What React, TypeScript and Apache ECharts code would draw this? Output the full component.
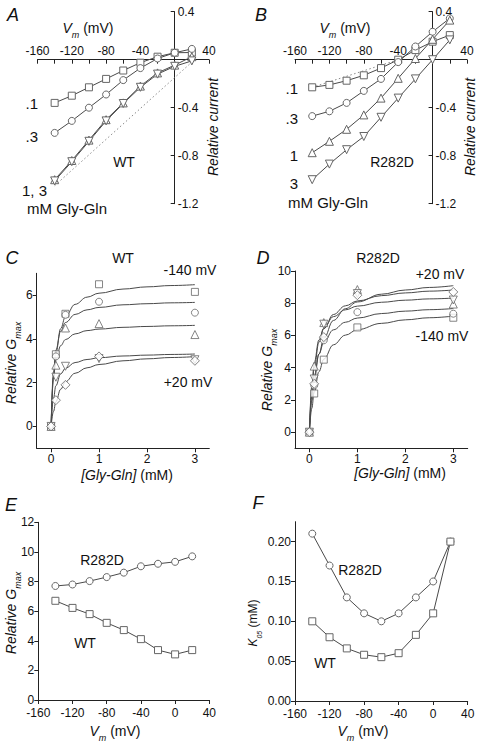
import React, { useEffect, useRef } from "react";
import * as echarts from "echarts";

const FONT = "'Liberation Sans', Arial, Helvetica, sans-serif";
const LINE = "#4a4a4a";
const MK = "#666666";
const AX = "#222222";

// membrane potentials (mV)
const vm = [-140, -120, -100, -80, -60, -40, -20, 0, 20];

// Panel A: WT relative current
const wtI01 = [-0.36, -0.3, -0.23, -0.16, -0.09, -0.025, 0.025, 0.058, 0.06];
const wtI03 = [-0.61, -0.51, -0.4, -0.29, -0.17, -0.07, 0.01, 0.058, 0.09];
const wtI1 = [-1.0, -0.84, -0.67, -0.5, -0.36, -0.22, -0.11, -0.045, 0.025];
const wtI3 = [-1.01, -0.85, -0.68, -0.51, -0.365, -0.23, -0.12, -0.055, -0.01];
const wtRefX = [-140, 20];
const wtRefY = [-1.05, -0.02];

// Panel B: R282D relative current
const rdI01 = [-0.23, -0.21, -0.175, -0.13, -0.07, 0.0, 0.08, 0.15, 0.205];
const rdI03 = [-0.47, -0.43, -0.36, -0.26, -0.16, -0.02, 0.11, 0.233, 0.345];
const rdI1 = [-0.775, -0.68, -0.58, -0.46, -0.32, -0.155, 0.01, 0.17, 0.33];
const rdI3 = [-1.0, -0.87, -0.75, -0.64, -0.48, -0.32, -0.16, 0.0, 0.165];
const rdRefX = [-140, -40];
const rdRefY = [-0.23, 0.0];

// Panels C, D: [Gly-Gln] (mM)
const conc = [0, 0.1, 0.3, 1, 3];
const wtG140 = [0, 3.3, 5.15, 6.5, 6.15];
const wtG100 = [0, 3.2, 5.1, 5.7, 5.2];
const wtG60 = [0, 2.8, 4.5, 4.7, 4.2];
const wtG20n = [0, 2.25, 2.75, 3.1, 3.05];
const wtG20p = [0, 1.2, 1.9, 3.2, 3.0];

const rdG140 = [0, 2.4, 4.5, 6.5, 7.1];
const rdG100 = [0, 2.9, 5.7, 7.45, 7.35];
const rdG60 = [0, 4.1, 6.8, 8.85, 7.95];
const rdG20n = [0, 3.3, 6.7, 8.6, 8.2];
const rdG20p = [0, 3.0, 5.9, 8.5, 8.7];

// fitted curves
const fitX = [0, 0.05, 0.1, 0.2, 0.3, 0.5, 0.75, 1, 1.5, 2, 2.5, 3];
const wtFit140 = [0, 2.23, 3.35, 4.47, 5.03, 5.58, 5.91, 6.09, 6.28, 6.38, 6.44, 6.48];
const wtFit100 = [0, 2.5, 3.49, 4.36, 4.75, 5.12, 5.33, 5.44, 5.56, 5.61, 5.65, 5.67];
const wtFit60 = [0, 2.24, 3.03, 3.69, 3.97, 4.23, 4.38, 4.45, 4.53, 4.57, 4.6, 4.62];
const wtFit20n = [0, 1.28, 1.86, 2.4, 2.66, 2.92, 3.06, 3.14, 3.22, 3.26, 3.29, 3.31];
const wtFit20p = [0, 0.68, 1.13, 1.7, 2.04, 2.43, 2.68, 2.83, 3.0, 3.09, 3.15, 3.19];

const rdFit140 = [0, 1.48, 2.48, 3.76, 4.53, 5.42, 6.02, 6.36, 6.75, 6.97, 7.1, 7.2];
const rdFit100 = [0, 2.22, 3.48, 4.85, 5.58, 6.35, 6.82, 7.08, 7.36, 7.51, 7.6, 7.67];
const rdFit60 = [0, 2.87, 4.3, 5.73, 6.45, 7.17, 7.59, 7.82, 8.06, 8.19, 8.27, 8.32];
const rdFit20n = [0, 2.56, 4.0, 5.58, 6.42, 7.3, 7.84, 8.14, 8.47, 8.64, 8.75, 8.82];
const rdFit20p = [0, 1.94, 3.23, 4.85, 5.82, 6.93, 7.66, 8.08, 8.56, 8.82, 8.98, 9.09];

// Panel E: relative Gmax vs Vm
const rdGmax = [7.7, 7.8, 8.03, 8.3, 8.6, 9.03, 9.2, 9.33, 9.7];
const wtGmax = [6.7, 6.22, 5.8, 5.21, 4.72, 4.11, 3.37, 3.08, 3.37];

// Panel F: K05 vs Vm
const rdK = [0.21, 0.17, 0.13, 0.11, 0.1, 0.11, 0.13, 0.15, 0.2];
const wtK = [0.1, 0.08, 0.066, 0.058, 0.055, 0.06, 0.083, 0.11, 0.2];

const pairs = (xs: number[], ys: number[]) => xs.map((x, i) => [x, ys[i]]);

const mkStyle = { color: "#ffffff", borderColor: MK, borderWidth: 1 };

function lineS(idx: number, xs: number[], ys: number[], symbol: string, size: number, rot = 0) {
  return {
    type: "line",
    xAxisIndex: idx,
    yAxisIndex: idx,
    data: pairs(xs, ys),
    symbol,
    symbolSize: size,
    symbolRotate: rot,
    showSymbol: true,
    lineStyle: { color: LINE, width: 1 },
    itemStyle: mkStyle,
    z: 3,
  };
}
function scatterS(idx: number, xs: number[], ys: number[], symbol: string, size: number, rot = 0) {
  return {
    type: "scatter",
    xAxisIndex: idx,
    yAxisIndex: idx,
    data: pairs(xs, ys),
    symbol,
    symbolSize: size,
    symbolRotate: rot,
    itemStyle: mkStyle,
    z: 4,
  };
}
function curveS(idx: number, xs: number[], ys: number[]) {
  return {
    type: "line",
    xAxisIndex: idx,
    yAxisIndex: idx,
    data: pairs(xs, ys),
    showSymbol: false,
    symbol: "none",
    smooth: 0.4,
    smoothMonotone: "x",
    lineStyle: { color: LINE, width: 1 },
    z: 2,
  };
}
function dotS(idx: number, xs: number[], ys: number[]) {
  return {
    type: "line",
    xAxisIndex: idx,
    yAxisIndex: idx,
    data: pairs(xs, ys),
    showSymbol: false,
    symbol: "none",
    lineStyle: { color: "#8a8a8a", width: 1, type: [1.5, 2.5] },
    z: 1,
  };
}

const labelBase = { color: "#111", fontFamily: FONT, fontSize: 12 };
const lineSt = { color: AX, width: 1 };

function hid(grid: number, min: number, max: number) {
  return { gridIndex: grid, type: "value", min, max, show: false, splitLine: { show: false } };
}
// x-axis drawn along the zero current line (labels above, ticks below)
function ivX(grid: number) {
  return {
    gridIndex: grid,
    type: "value",
    min: -160,
    max: 40,
    interval: 40,
    position: "top",
    axisLine: { show: true, onZero: false, lineStyle: lineSt },
    axisTick: { show: true, inside: true, length: 4, lineStyle: lineSt },
    minorTick: { show: true, splitNumber: 2, length: 4, lineStyle: lineSt },
    axisLabel: { ...labelBase, margin: 3, formatter: (v: number) => (v === 0 ? "" : String(v)) },
    splitLine: { show: false },
    minorSplitLine: { show: false },
  };
}
// y-axis drawn along the zero voltage line (labels right, ticks left)
function ivY(grid: number) {
  return {
    gridIndex: grid,
    type: "value",
    min: -1.2,
    max: 0.4,
    interval: 0.4,
    position: "right",
    axisLine: { show: true, onZero: false, lineStyle: lineSt },
    axisTick: { show: true, inside: true, length: 4, lineStyle: lineSt },
    axisLabel: {
      ...labelBase,
      margin: 3,
      formatter: (v: number) => (Math.abs(v) < 1e-9 ? "" : v.toFixed(1)),
    },
    splitLine: { show: false },
  };
}
function concX(grid: number) {
  return {
    gridIndex: grid,
    type: "value",
    min: -0.3,
    max: 3.3,
    position: "bottom",
    axisLine: { show: true, onZero: false, lineStyle: lineSt },
    axisTick: { show: true, length: 4, lineStyle: lineSt, customValues: [0, 1, 2, 3] },
    axisLabel: { ...labelBase, margin: 5, customValues: [0, 1, 2, 3] },
    splitLine: { show: false },
  };
}
function gY(grid: number, min: number, max: number, vals: number[], fmt?: (v: number) => string) {
  return {
    gridIndex: grid,
    type: "value",
    min,
    max,
    position: "left",
    axisLine: { show: true, onZero: false, lineStyle: lineSt },
    axisTick: { show: true, length: 4, lineStyle: lineSt, customValues: vals },
    axisLabel: { ...labelBase, margin: 4, customValues: vals, formatter: fmt },
    splitLine: { show: false },
  };
}
function vmX(grid: number) {
  return {
    gridIndex: grid,
    type: "value",
    min: -160,
    max: 40,
    interval: 40,
    position: "bottom",
    axisLine: { show: true, onZero: false, lineStyle: lineSt },
    axisTick: { show: true, length: 4, lineStyle: lineSt },
    axisLabel: { ...labelBase, margin: 7 },
    splitLine: { show: false },
  };
}

function sub(size: number) {
  return {
    i: { fontStyle: "italic", fontSize: size, fontFamily: FONT, lineHeight: size + 2, fill: "#111" },
    s: {
      fontStyle: "italic",
      fontSize: Math.round(size * 0.62),
      fontFamily: FONT,
      lineHeight: size + 8,
      verticalAlign: "bottom",
      fill: "#111",
    },
    n: { fontSize: size, fontFamily: FONT, lineHeight: size + 2, fill: "#111" },
  };
}

function txt(
  x: number,
  y: number,
  text: string,
  o: { size?: number; italic?: boolean; align?: string; rot?: number; rich?: any } = {}
) {
  return {
    type: "text",
    x,
    y,
    rotation: o.rot || 0,
    z: 100,
    style: {
      text,
      fill: "#111",
      fontFamily: FONT,
      fontSize: o.size || 14,
      fontStyle: o.italic ? "italic" : "normal",
      align: o.align || "center",
      verticalAlign: "middle",
      rich: o.rich,
    },
  };
}

const VM_TXT = "{i|V}{s|m}{n| (mV)}";
const GMAX_TXT = "{i|Relative G}{s|max}";
const R90 = Math.PI / 2;

// panel frames (pixels)
const A_L = 37.5, A_W = 171.5, A_T = 11.7, A_H = 192;
const B_L = 295, B_W = 172;

export default function App() {
  const ref = useRef<HTMLDivElement>(null);
  useEffect(() => {
    if (!ref.current) return;
    const chart = echarts.init(ref.current, null, { renderer: "svg" });
    const zeroY = A_T + (A_H * 0.4) / 1.6;
    const option = {
      animation: false,
      backgroundColor: "#ffffff",
      textStyle: { fontFamily: FONT },
      grid: [
        { left: A_L, top: A_T, width: A_W, height: A_H }, // 0 A data
        { left: A_L, top: zeroY, width: A_W, height: A_T + A_H - zeroY }, // 1 A x-axis
        { left: A_L, top: A_T, width: A_W * 0.8, height: A_H }, // 2 A y-axis
        { left: B_L, top: A_T, width: B_W, height: A_H }, // 3 B data
        { left: B_L, top: zeroY, width: B_W, height: A_T + A_H - zeroY }, // 4 B x-axis
        { left: B_L, top: A_T, width: B_W * 0.8, height: A_H }, // 5 B y-axis
        { left: 36.7, top: 273.3, width: 172.6, height: 175 }, // 6 C
        { left: 295, top: 271, width: 172.7, height: 177.3 }, // 7 D
        { left: 38.3, top: 522.3, width: 171, height: 177.7 }, // 8 E
        { left: 295, top: 521.7, width: 172.7, height: 179.3 }, // 9 F
      ],
      xAxis: [
        hid(0, -160, 40),
        ivX(1),
        hid(2, -160, 0),
        hid(3, -160, 40),
        ivX(4),
        hid(5, -160, 0),
        concX(6),
        concX(7),
        vmX(8),
        vmX(9),
      ],
      yAxis: [
        hid(0, -1.2, 0.4),
        hid(1, -1.2, 0),
        ivY(2),
        hid(3, -1.2, 0.4),
        hid(4, -1.2, 0),
        ivY(5),
        gY(6, -1, 7, [0, 2, 4, 6]),
        gY(7, -1, 10, [0, 2, 4, 6, 8, 10]),
        gY(8, 0, 12, [0, 2, 4, 6, 8, 10, 12]),
        gY(9, 0, 0.225, [0, 0.05, 0.1, 0.15, 0.2], (v: number) => v.toFixed(2)),
      ],
      series: [
        // A
        dotS(0, wtRefX, wtRefY),
        lineS(0, vm, wtI01, "rect", 7),
        lineS(0, vm, wtI03, "circle", 7),
        lineS(0, vm, wtI1, "triangle", 8),
        lineS(0, vm, wtI3, "triangle", 8, 180),
        // B
        dotS(3, rdRefX, rdRefY),
        lineS(3, vm, rdI01, "rect", 7),
        lineS(3, vm, rdI03, "circle", 7),
        lineS(3, vm, rdI1, "triangle", 8),
        lineS(3, vm, rdI3, "triangle", 8, 180),
        // C
        curveS(6, fitX, wtFit140),
        curveS(6, fitX, wtFit100),
        curveS(6, fitX, wtFit60),
        curveS(6, fitX, wtFit20n),
        curveS(6, fitX, wtFit20p),
        scatterS(6, conc, wtG140, "rect", 7),
        scatterS(6, conc, wtG100, "circle", 7),
        scatterS(6, conc, wtG60, "triangle", 8),
        scatterS(6, conc, wtG20n, "triangle", 8, 180),
        scatterS(6, conc, wtG20p, "diamond", 9),
        // D
        curveS(7, fitX, rdFit140),
        curveS(7, fitX, rdFit100),
        curveS(7, fitX, rdFit60),
        curveS(7, fitX, rdFit20n),
        curveS(7, fitX, rdFit20p),
        scatterS(7, conc, rdG140, "rect", 7),
        scatterS(7, conc, rdG100, "circle", 7),
        scatterS(7, conc, rdG60, "triangle", 8),
        scatterS(7, conc, rdG20n, "triangle", 8, 180),
        scatterS(7, conc, rdG20p, "diamond", 9),
        // E
        lineS(8, vm, rdGmax, "circle", 7),
        lineS(8, vm, wtGmax, "rect", 7),
        // F
        lineS(9, vm, rdK, "circle", 7),
        lineS(9, vm, wtK, "rect", 7),
      ],
      graphic: [
        // A
        txt(13, 15, "A", { size: 18, italic: true }),
        txt(88, 28, VM_TXT, { rich: sub(14) }),
        txt(213, 127, "Relative current", { italic: true, rot: R90 }),
        txt(38, 103, ".1", { align: "right", size: 15 }),
        txt(38, 136, ".3", { align: "right", size: 15 }),
        txt(47, 190, "1, 3", { align: "right", size: 15 }),
        txt(27, 208, "mM Gly-Gln", { align: "left", size: 15 }),
        txt(124, 162, "WT"),
        // B
        txt(261, 15, "B", { size: 18, italic: true }),
        txt(345, 28, VM_TXT, { rich: sub(14) }),
        txt(470, 127, "Relative current", { italic: true, rot: R90 }),
        txt(298, 88, ".1", { align: "right", size: 15 }),
        txt(298, 118, ".3", { align: "right", size: 15 }),
        txt(298, 155, "1", { align: "right", size: 15 }),
        txt(298, 183, "3", { align: "right", size: 15 }),
        txt(288, 202, "mM Gly-Gln", { align: "left", size: 15 }),
        txt(392, 162, "R282D"),
        // C
        txt(12, 258, "C", { size: 18, italic: true }),
        txt(123, 258, "WT"),
        txt(190, 270, "-140 mV"),
        txt(188, 382, "+20 mV"),
        txt(11, 363, GMAX_TXT, { rot: R90, rich: sub(14) }),
        txt(127, 475, "{i|[Gly-Gln]}{n| (mM)}", { rich: sub(14) }),
        // D
        txt(263, 258, "D", { size: 18, italic: true }),
        txt(378, 258, "R282D"),
        txt(440, 274, "+20 mV"),
        txt(442, 336, "-140 mV"),
        txt(267, 370, GMAX_TXT, { rot: R90, rich: sub(14) }),
        txt(400, 473, "{i|[Gly-Gln]}{n| (mM)}", { rich: sub(14) }),
        // E
        txt(11, 505, "E", { size: 18, italic: true }),
        txt(102, 560, "R282D"),
        txt(85, 643, "WT"),
        txt(11, 613, GMAX_TXT, { rot: R90, rich: sub(14) }),
        txt(115, 731, VM_TXT, { rich: sub(14) }),
        // F
        txt(258, 503, "F", { size: 18, italic: true }),
        txt(360, 570, "R282D"),
        txt(325, 663, "WT"),
        txt(253, 623, "{i|K}{s|05}{n| (mM)}", { rot: R90, rich: sub(12) }),
        txt(363, 731, VM_TXT, { rich: sub(14) }),
      ],
    };
    chart.setOption(option as any);
    return () => chart.dispose();
  }, []);
  return (
    <div
      ref={ref}
      style={{ position: "absolute", left: 0, top: 0, width: 480, height: 741, background: "#fff" }}
    />
  );
}
